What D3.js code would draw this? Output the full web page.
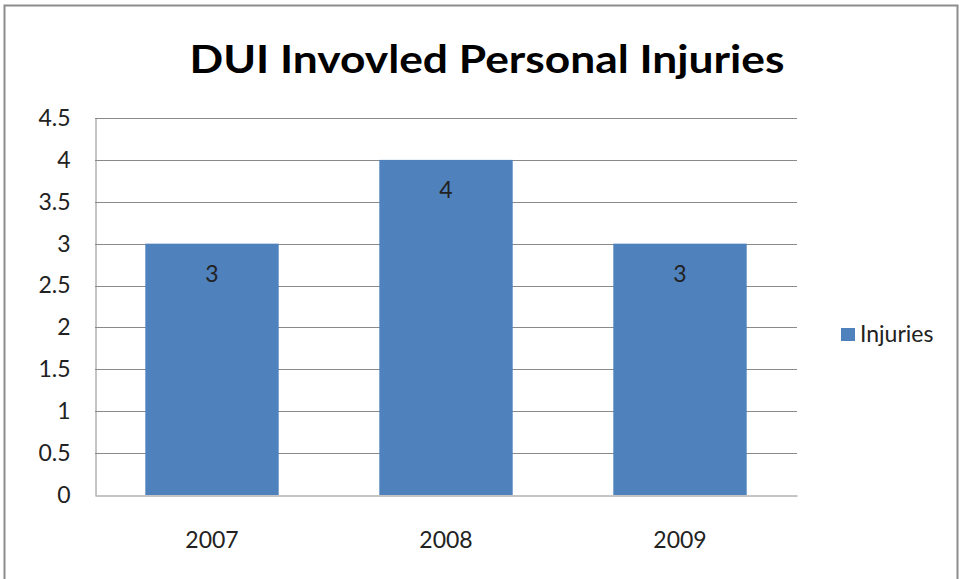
<!DOCTYPE html>
<html>
<head>
<meta charset="utf-8">
<script src="https://cdn.jsdelivr.net/npm/d3@7"></script>
<style>
  body { margin: 0; background: #fff; }
  svg { display: block; }
</style>
</head>
<body>
<div id="chart"></div>
<script>
const years = ['2007', '2008', '2009'];
const injuries = [3, 4, 3];
const yTicks = [0, 0.5, 1, 1.5, 2, 2.5, 3, 3.5, 4, 4.5];
const seriesName = 'Injuries';
const chartTitle = 'DUI Invovled Personal Injuries';

const width = 959;
const height = 579;
const font = 'Lato, "Open Sans", sans-serif';
const barColor = '#4f81bd';
const labelSize = 23;

const svg = d3.select('#chart')
    .append('svg')
    .attr('width', width)
    .attr('height', height);

// outer frame
svg.append('rect')
    .attr('x', 4.5)
    .attr('y', 5.5)
    .attr('width', 953)
    .attr('height', 580)
    .attr('fill', 'white')
    .attr('stroke', '#8c8c8c')
    .attr('stroke-width', 2);

const plot = { left: 95, right: 797, top: 118, bottom: 495 };

const x = d3.scaleBand()
    .domain(years)
    .range([plot.left, plot.right])
    .paddingInner(0.43)
    .paddingOuter(0.215);

const y = d3.scaleLinear()
    .domain([0, 4.5])
    .range([plot.bottom, plot.top]);

// gridlines
svg.append('g')
    .selectAll('line')
    .data(yTicks.filter(t => t > 0))
    .enter().append('line')
    .attr('x1', plot.left)
    .attr('x2', plot.right)
    .attr('y1', d => Math.round(y(d)) + 0.5)
    .attr('y2', d => Math.round(y(d)) + 0.5)
    .attr('stroke', '#8a8a8a')
    .attr('stroke-width', 1);

// y axis
const yAxis = svg.append('g')
    .attr('transform', `translate(${plot.left + 0.5},0)`)
    .call(d3.axisLeft(y).tickValues(yTicks).tickSize(0).tickPadding(25).tickFormat(d => String(d)));
yAxis.select('.domain').attr('stroke', '#8a8a8a');
yAxis.selectAll('text')
    .attr('font-family', font)
    .attr('font-size', labelSize)
    .attr('fill', '#222');

// bars
svg.append('g')
    .selectAll('rect')
    .data(years)
    .enter().append('rect')
    .attr('x', d => x(d))
    .attr('y', (d, i) => y(injuries[i]))
    .attr('width', x.bandwidth())
    .attr('height', (d, i) => y(0) - y(injuries[i]))
    .attr('fill', barColor);

// data labels
svg.append('g')
    .selectAll('text')
    .data(years)
    .enter().append('text')
    .attr('x', d => x(d) + x.bandwidth() / 2)
    .attr('y', (d, i) => y(injuries[i]) + 38)
    .attr('text-anchor', 'middle')
    .attr('font-family', font)
    .attr('font-size', labelSize)
    .attr('fill', '#222')
    .text((d, i) => injuries[i]);

// x axis
const xAxis = svg.append('g')
    .attr('transform', `translate(0,${plot.bottom + 0.5})`)
    .call(d3.axisBottom(x).tickSize(0).tickPadding(36));
xAxis.select('.domain').attr('stroke', '#8a8a8a');
xAxis.selectAll('text')
    .attr('font-family', font)
    .attr('font-size', labelSize)
    .attr('fill', '#222');

// title
svg.append('text')
    .attr('x', 487)
    .attr('y', 73)
    .attr('text-anchor', 'middle')
    .attr('font-family', font)
    .attr('font-weight', 'bold')
    .attr('font-size', 39)
    .attr('fill', '#000')
    .attr('textLength', 595)
    .attr('lengthAdjust', 'spacingAndGlyphs')
    .text(chartTitle);

// legend
const legend = svg.append('g').attr('transform', 'translate(841,328)');
legend.append('rect')
    .attr('width', 14)
    .attr('height', 13)
    .attr('fill', barColor);
legend.append('text')
    .attr('x', 19)
    .attr('y', 14)
    .attr('font-family', font)
    .attr('font-size', labelSize)
    .attr('fill', '#222')
    .text(seriesName);
</script>
</body>
</html>
